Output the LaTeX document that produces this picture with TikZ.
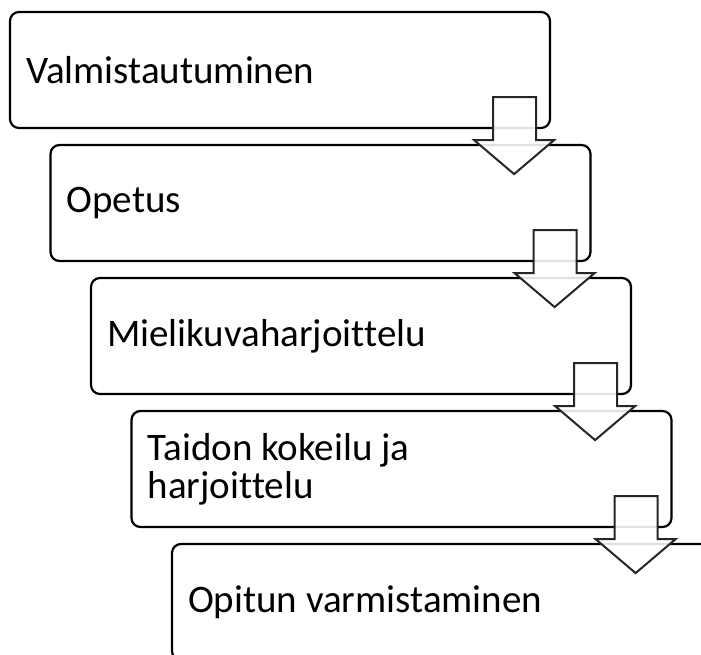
\documentclass[tikz,border=0pt]{standalone}
\usepackage{fontspec}
\setmainfont[RawFeature={-liga;-calt;-clig}]{Carlito}
\usetikzlibrary{positioning, calc}

\begin{document}
\begin{tikzpicture}[x = 1pt, y = -1pt,
  stagebox/.style = {draw, line width = 2.2pt, rounded corners = 9pt,
    minimum width = 540pt, minimum height = 116pt, inner sep = 0pt},
  stagetext/.style = {anchor = west, inner sep = 0pt, align = left,
    font = \fontsize{39}{38}\selectfont},
  downarrow/.style = {draw = black!85, line width = 2pt, fill = white,
    fill opacity = 0.88, line join = miter}]
  \def \dx {40.5};
  \def \dy {133};
  \def \xfirst {280};
  \def \yfirst {70};

  % Fix the picture size.
  \clip (0, 0) rectangle (701, 655);

  % Draw the stage boxes.
  \foreach \i in {1, ..., 5} {
    \node [stagebox] (b\i) at ({\xfirst + (\i - 1) * \dx}, {\yfirst + (\i - 1) * \dy}) {};
  };

  % Draw the stage texts.
  \node [stagetext] (t1) at ($(b1.west) + (17, 0)$) {Valmistautuminen};
  \node [stagetext] (t2) at ($(b2.west) + (17, 0)$) {Opetus};
  \node [stagetext] (t3) at ($(b3.west) + (17, 0)$) {Miel\kern0ptikuvaharjoit\kern0pttelu};
  \node [stagetext] (t4) at ($(b4.west) + (17, 0)$) {Taidon kokeilu ja\\harjoit\kern0pttelu};
  \node [stagetext] (t5) at ($(b5.west) + (17, 0)$) {Opitun varmistaminen};

  % Draw the block arrows between the boxes.
  \foreach \i in {1, ..., 4} {
    \coordinate (c\i) at (b\i.south east);
    \draw [downarrow] ($(c\i) + (-58, -32)$) -- ($(c\i) + (-15, -32)$)
      -- ($(c\i) + (-15, 11)$) -- ($(c\i) + (3, 11)$)
      -- ($(c\i) + (-37, 45)$) -- ($(c\i) + (-77, 11)$)
      -- ($(c\i) + (-58, 11)$) -- cycle;
  };
\end{tikzpicture}
\end{document}
